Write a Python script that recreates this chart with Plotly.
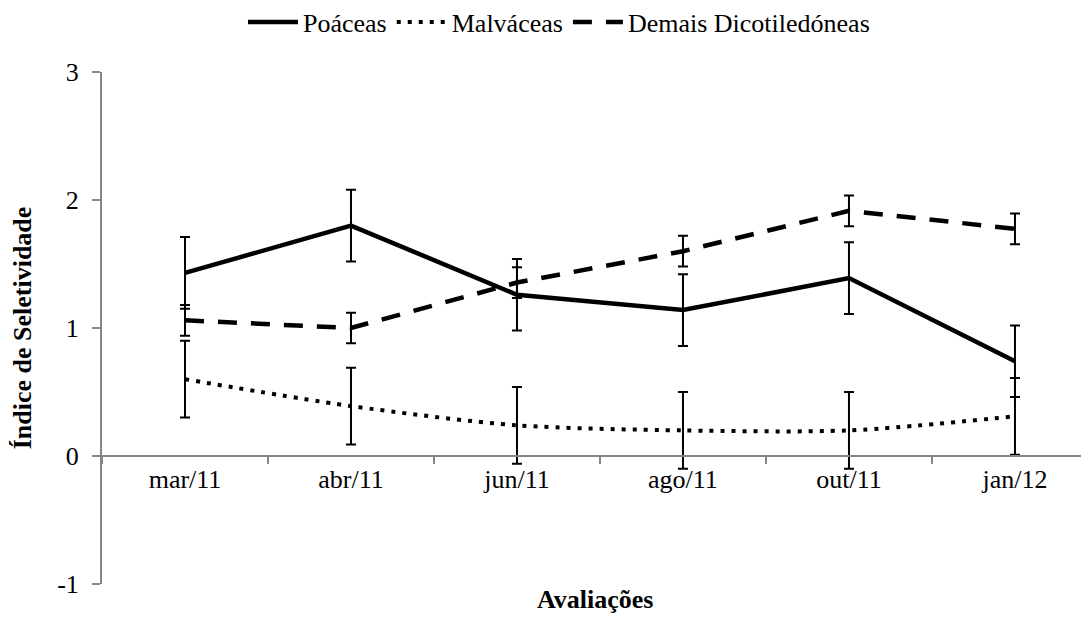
import plotly.graph_objects as go

categories = ["mar/11", "abr/11", "jun/11", "ago/11", "out/11", "jan/12"]
poaceas = [1.43, 1.80, 1.26, 1.14, 1.39, 0.74]
poaceas_err = [0.28, 0.28, 0.28, 0.28, 0.28, 0.28]
malvaceas = [0.60, 0.39, 0.24, 0.20, 0.20, 0.31]
malvaceas_err = [0.30, 0.30, 0.30, 0.30, 0.30, 0.30]
dicot = [1.06, 1.00, 1.355, 1.60, 1.915, 1.775]
dicot_err = [0.12, 0.12, 0.12, 0.12, 0.12, 0.12]
yticks = [-1, 0, 1, 2, 3]
ytick_labels = ["-1", "0", "1", "2", "3"]

FONT = "Liberation Serif"
AXC = "#868686"

def eb(arr):
    return dict(type="data", array=arr, visible=True, color="black", thickness=2, width=5)

fig = go.Figure()
fig.add_trace(go.Scatter(x=categories, y=poaceas, name="Poáceas", mode="lines",
                         line=dict(color="black", width=4.5), error_y=eb(poaceas_err)))
fig.add_trace(go.Scatter(x=categories, y=malvaceas, name="Malváceas", mode="lines",
                         line=dict(color="black", width=4, dash="4px,7px", shape="spline", smoothing=0.8),
                         error_y=eb(malvaceas_err)))
fig.add_trace(go.Scatter(x=categories, y=dicot, name="Demais Dicotiledóneas", mode="lines",
                         line=dict(color="black", width=4.5, dash="19px,14px"), error_y=eb(dicot_err)))

fig.update_layout(
    width=1081, height=609,
    margin=dict(l=94, r=0, t=64, b=33, autoexpand=False),
    paper_bgcolor="white", plot_bgcolor="white",
    font=dict(family=FONT, size=26, color="black"),
    showlegend=True,
    legend=dict(orientation="h", x=0.463, xanchor="center", yref="container", y=0.977, yanchor="middle",
                font=dict(family=FONT, size=26, color="black"), itemwidth=50, traceorder="normal",
                bgcolor="rgba(0,0,0,0)"),
    xaxis=dict(type="category", range=[-0.5, 5.446], showgrid=False, zeroline=False,
               showline=True, linecolor=AXC, linewidth=2, automargin=False,
               anchor="free", position=0.25, tickson="boundaries", ticks="outside",
               ticklen=7, tickcolor=AXC, tickwidth=2,
               tickfont=dict(family=FONT, size=26, color="black")),
    yaxis=dict(range=[-1, 3], tickvals=yticks, ticktext=ytick_labels, showgrid=False, zeroline=False,
               showline=True, linecolor=AXC, linewidth=2, ticks="outside", ticklen=8, automargin=False,
               tickcolor=AXC, tickwidth=2, ticklabelstandoff=8,
               tickfont=dict(family=FONT, size=26, color="black"),
               title=dict(text="<b>Índice de Seletividade</b>", font=dict(family=FONT, size=26), standoff=19)),
    annotations=[dict(text="<b>Avaliações</b>", xref="paper", yref="paper", x=0.5, y=-0.031,
                      xanchor="center", yanchor="middle", showarrow=False,
                      font=dict(family=FONT, size=26, color="black"))],
)

fig.write_html("out.html")
